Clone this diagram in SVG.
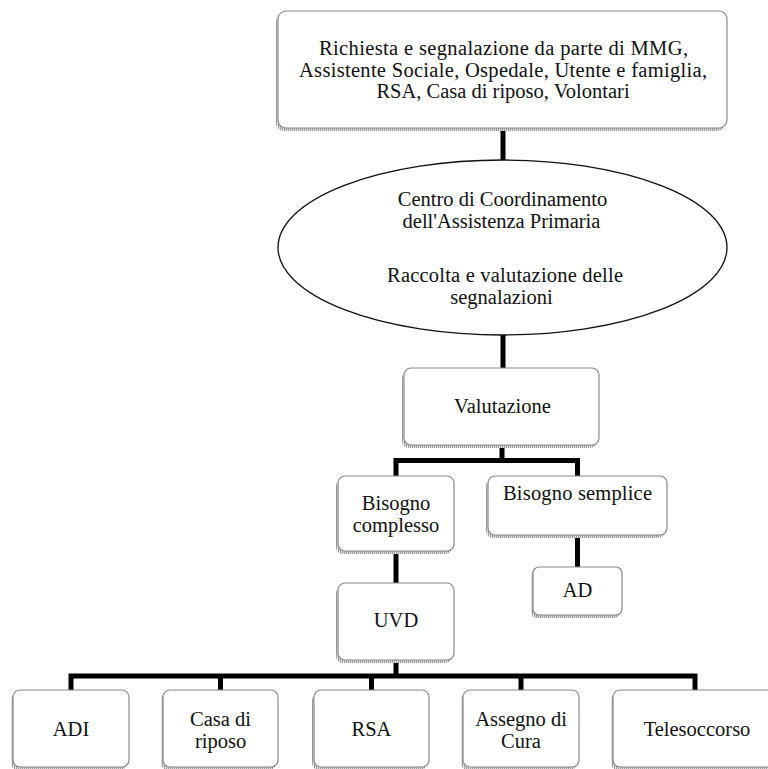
<svg xmlns="http://www.w3.org/2000/svg" width="768" height="769" viewBox="0 0 768 769">
  <defs>
    <!-- fine hatched texture used for the soft box shadows -->
    <pattern id="hatch" width="2" height="2" patternUnits="userSpaceOnUse">
      <rect width="2" height="2" fill="#e4e4e4"/>
      <rect width="1" height="2" fill="#9a9a9a"/>
    </pattern>
  </defs>
  <style>
    .shadow { fill: url(#hatch); stroke: none; }
    .box { fill: #ffffff; stroke: #8a8a8a; stroke-width: 1.2; }
    .oval { fill: #ffffff; stroke: #111111; stroke-width: 1.3; }
    .wire { fill: none; stroke: #000000; stroke-width: 5; stroke-linejoin: miter; stroke-linecap: butt; }
    text { font-size: 20.5px; fill: #111111; text-anchor: middle; }
  </style>
  <rect width="768" height="769" fill="#ffffff"/>

  <!-- connectors -->
  <g id="connectors">
    <path class="wire" d="M503 128 V161"/>
    <path class="wire" d="M503 334 V368"/>
    <path class="wire" d="M502 445 V460.5 M396 476 V460.5 H577.5 V476"/>
    <path class="wire" d="M577.5 535 V567"/>
    <path class="wire" d="M396 551 V583"/>
    <path class="wire" d="M396 660 V676 M71 690 V676 H695 V690 M220.5 676 V690 M371.5 676 V690 M521 676 V690"/>
  </g>

  <g font-family="Liberation Serif, DejaVu Serif, serif">
  <g id="richiesta">
    <rect class="shadow" x="276" y="14" width="449" height="117" rx="8"/>
    <rect class="box" x="278" y="11" width="449" height="117" rx="8"/>
    <text x="503.5" y="55" textLength="369" lengthAdjust="spacing">Richiesta e segnalazione da parte di MMG,</text>
    <text x="503" y="76.5" textLength="408" lengthAdjust="spacing">Assistente Sociale, Ospedale, Utente e famiglia,</text>
    <text x="503" y="98">RSA, Casa di riposo, Volontari</text>
  </g>

  <g id="centro">
    <ellipse class="oval" cx="502.5" cy="247.5" rx="224.5" ry="87.5"/>
    <text x="502.5" y="206">Centro di Coordinamento</text>
    <text x="501.5" y="227.5">dell'Assistenza Primaria</text>
    <text x="505" y="282" textLength="236" lengthAdjust="spacing">Raccolta e valutazione delle</text>
    <text x="501.5" y="303.5">segnalazioni</text>
  </g>

  <g id="valutazione">
    <rect class="shadow" x="402" y="371" width="195" height="77" rx="7"/>
    <rect class="box" x="404" y="368" width="195" height="77" rx="7"/>
    <text x="502.5" y="413">Valutazione</text>
  </g>

  <g id="bisogno-complesso">
    <rect class="shadow" x="336" y="479" width="116" height="75" rx="7"/>
    <rect class="box" x="338" y="476" width="116" height="75" rx="7"/>
    <text x="396" y="510">Bisogno</text>
    <text x="396" y="532">complesso</text>
  </g>

  <g id="bisogno-semplice">
    <rect class="shadow" x="486" y="479" width="179" height="59" rx="7"/>
    <rect class="box" x="488" y="476" width="179" height="59" rx="7"/>
    <text x="577.5" y="500" textLength="149" lengthAdjust="spacing">Bisogno semplice</text>
  </g>

  <g id="ad">
    <rect class="shadow" x="531" y="570" width="89" height="48" rx="6"/>
    <rect class="box" x="533" y="567" width="89" height="48" rx="6"/>
    <text x="577.5" y="597">AD</text>
  </g>

  <g id="uvd">
    <rect class="shadow" x="336" y="586" width="116" height="77" rx="7"/>
    <rect class="box" x="338" y="583" width="116" height="77" rx="7"/>
    <text x="396" y="627">UVD</text>
  </g>

  <g id="adi">
    <rect class="shadow" x="11" y="693" width="116" height="77" rx="7"/>
    <rect class="box" x="13" y="690" width="116" height="77" rx="7"/>
    <text x="71" y="736">ADI</text>
  </g>

  <g id="casa-di-riposo">
    <rect class="shadow" x="161" y="693" width="115" height="77" rx="7"/>
    <rect class="box" x="163" y="690" width="115" height="77" rx="7"/>
    <text x="220.5" y="726">Casa di</text>
    <text x="220.5" y="747.5">riposo</text>
  </g>

  <g id="rsa">
    <rect class="shadow" x="312" y="693" width="115" height="77" rx="7"/>
    <rect class="box" x="314" y="690" width="115" height="77" rx="7"/>
    <text x="371.5" y="736">RSA</text>
  </g>

  <g id="assegno-di-cura">
    <rect class="shadow" x="461" y="693" width="116" height="77" rx="7"/>
    <rect class="box" x="463" y="690" width="116" height="77" rx="7"/>
    <text x="521" y="726">Assegno di</text>
    <text x="521" y="747.5">Cura</text>
  </g>

  <g id="telesoccorso">
    <rect class="shadow" x="611" y="693" width="170" height="77" rx="7"/>
    <rect class="box" x="613" y="690" width="170" height="77" rx="7"/>
    <text x="697" y="736">Telesoccorso</text>
  </g>
  </g>
</svg>
